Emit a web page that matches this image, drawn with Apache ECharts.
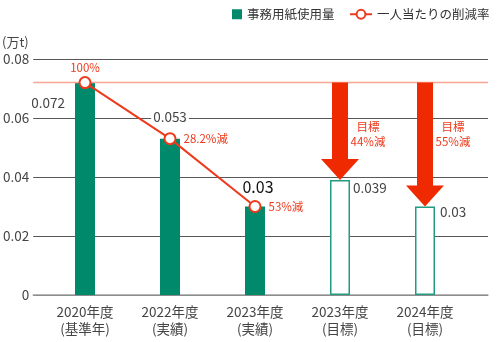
<!DOCTYPE html>
<html>
<head>
<meta charset="utf-8">
<script src="https://cdn.jsdelivr.net/npm/echarts@6/dist/echarts.min.js"></script>
<style>html,body{margin:0;padding:0;background:#fff}#c{width:500px;height:342px}</style>
</head>
<body>
<div id="c"></div>
<script>
// ---- data ----
const categories = ['2020年度\n(基準年)', '2022年度\n(実績)', '2023年度\n(実績)', '2023年度\n(目標)', '2024年度\n(目標)'];
const actualValues = [0.072, 0.053, 0.03, null, null];
const targetValues = [null, null, null, 0.039, 0.03];
const reductionValues = [0.072, 0.053, 0.03, null, null];
const reductionLabels = ['100%', '28.2%減', '53%減', '', ''];
const baselineValue = 0.072;
const arrowCategories = [3, 4];
const arrowFrom = [0.072, 0.072];
const arrowTo = [0.039, 0.03];
const arrowNotes = ['目標\n44%減', '目標\n55%減'];
const yTicks = [0, 0.02, 0.04, 0.06, 0.08];

// ---- styles ----
const FONT = '"Noto Sans CJK JP", "Noto Sans", sans-serif';
const GREEN = '#00896b';
const RED = '#ef2a00';
const LINE_RED = '#ee3a1c';
const TEXT = '#444';

// per-bar label placement (px relative to bar rect)
const barLabelStyles = [
  {position: [-10, 20.5], align: 'right', verticalAlign: 'middle', fontSize: 13.5, color: TEXT},
  {position: [10, -21.5], align: 'center', verticalAlign: 'middle', fontSize: 13.5, color: TEXT, backgroundColor: '#fff', padding: [0, 2]},
  {position: [13, -20], align: 'center', verticalAlign: 'middle', fontSize: 16, color: '#111'},
  {position: [23, 8], align: 'left', verticalAlign: 'middle', fontSize: 13.5, color: TEXT},
  {position: [25, 5.5], align: 'left', verticalAlign: 'middle', fontSize: 13.5, color: TEXT}
];
const lineLabelStyles = [
  {position: 'top', distance: 3},
  {position: 'right', distance: 7},
  {position: 'right', distance: 7}
];

function barItems(values) {
  return values.map((v, i) => v == null ? null : {
    value: v,
    label: Object.assign({show: true, formatter: String(v), fontFamily: FONT}, barLabelStyles[i])
  });
}

const chart = echarts.init(document.getElementById('c'), null, {renderer: 'canvas'});
chart.setOption({
  animation: false,
  textStyle: {fontFamily: FONT},
  graphic: [{
    type: 'text', left: 2, top: 36,
    style: {text: '(万t)', fontSize: 13, fill: TEXT, fontFamily: FONT}
  }],
  legend: [{
    data: ['事務用紙使用量'], left: 227, top: 3, icon: 'rect',
    itemWidth: 10, itemHeight: 10,
    textStyle: {fontSize: 12.5, color: '#333', fontFamily: FONT}
  }, {
    data: ['一人当たりの削減率'], left: 344, top: 3,
    itemWidth: 22, itemHeight: 11,
    textStyle: {fontSize: 12.5, color: '#333', fontFamily: FONT}
  }],
  grid: [
    {left: 30, right: 12, top: 59, bottom: 47},
    {left: 42.5, right: 32.5, top: 59, bottom: 47}
  ],
  xAxis: [{
    gridIndex: 0, type: 'value', min: 0, max: 1,
    axisLine: {show: true, onZero: false, lineStyle: {color: '#a0a0a0', width: 1.5}},
    axisTick: {show: false}, axisLabel: {show: false}, splitLine: {show: false}
  }, {
    gridIndex: 1, type: 'category', data: categories,
    axisLine: {show: false}, axisTick: {show: false},
    axisLabel: {color: TEXT, fontSize: 13.5, lineHeight: 17, margin: 8, fontFamily: FONT}
  }],
  yAxis: [{
    gridIndex: 0, type: 'value', min: 0, max: 0.08, interval: 0.02,
    axisLine: {show: false}, axisTick: {show: false},
    axisLabel: {color: TEXT, fontSize: 13.5, margin: 4, fontFamily: FONT,
      formatter: v => String(yTicks.find(t => Math.abs(t - v) < 1e-9) ?? v)},
    splitLine: {lineStyle: {color: '#595757', width: 1}}
  }, {
    gridIndex: 1, type: 'value', min: 0, max: 0.08, interval: 0.02, show: false
  }],
  series: [{
    type: 'line', xAxisIndex: 0, yAxisIndex: 0, silent: true,
    data: [[0, baselineValue], [1, baselineValue]],
    symbol: 'none', lineStyle: {color: '#f7a594', width: 1.5}
  }, {
    name: '事務用紙使用量', type: 'bar', xAxisIndex: 1, yAxisIndex: 1,
    barWidth: 20, barGap: '-100%',
    itemStyle: {color: GREEN},
    data: barItems(actualValues)
  }, {
    name: '目標', type: 'bar', xAxisIndex: 1, yAxisIndex: 1,
    barWidth: 20, barGap: '-100%',
    itemStyle: {color: '#fff', borderColor: '#1f9c82', borderWidth: 1.5},
    data: barItems(targetValues)
  }, {
    type: 'custom', xAxisIndex: 1, yAxisIndex: 1, silent: true, z: 5,
    data: arrowCategories.map((c, i) => [c, arrowFrom[i], arrowTo[i]]),
    encode: {x: 0, y: [1, 2]},
    renderItem: function (params, api) {
      const s = api.coord([api.value(0), api.value(1)]);
      const e = api.coord([api.value(0), api.value(2)]);
      const cx = s[0], sw = 8, hw = 19, hh = 21;
      const pts = [
        [cx - sw, s[1]], [cx + sw, s[1]], [cx + sw, e[1] - hh], [cx + hw, e[1] - hh],
        [cx, e[1]], [cx - hw, e[1] - hh], [cx - sw, e[1] - hh]
      ];
      return {
        type: 'group',
        children: [{
          type: 'polygon', shape: {points: pts}, style: {fill: RED}
        }, {
          type: 'text', x: cx + 28, y: s[1] + 52,
          style: {text: arrowNotes[params.dataIndex], fill: LINE_RED, fontSize: 11.5,
            fontFamily: FONT, align: 'center', verticalAlign: 'middle', lineHeight: 15}
        }]
      };
    }
  }, {
    name: '一人当たりの削減率', type: 'line', xAxisIndex: 1, yAxisIndex: 1, z: 6,
    data: reductionValues.map((v, i) => v == null ? null : {
      value: v,
      label: Object.assign({show: true, formatter: reductionLabels[i], color: LINE_RED, fontSize: 11.5, fontFamily: FONT}, lineLabelStyles[i])
    }),
    symbol: 'circle', symbolSize: 11,
    lineStyle: {color: LINE_RED, width: 2},
    itemStyle: {color: '#fff', borderColor: LINE_RED, borderWidth: 2}
  }]
});
</script>
</body>
</html>
